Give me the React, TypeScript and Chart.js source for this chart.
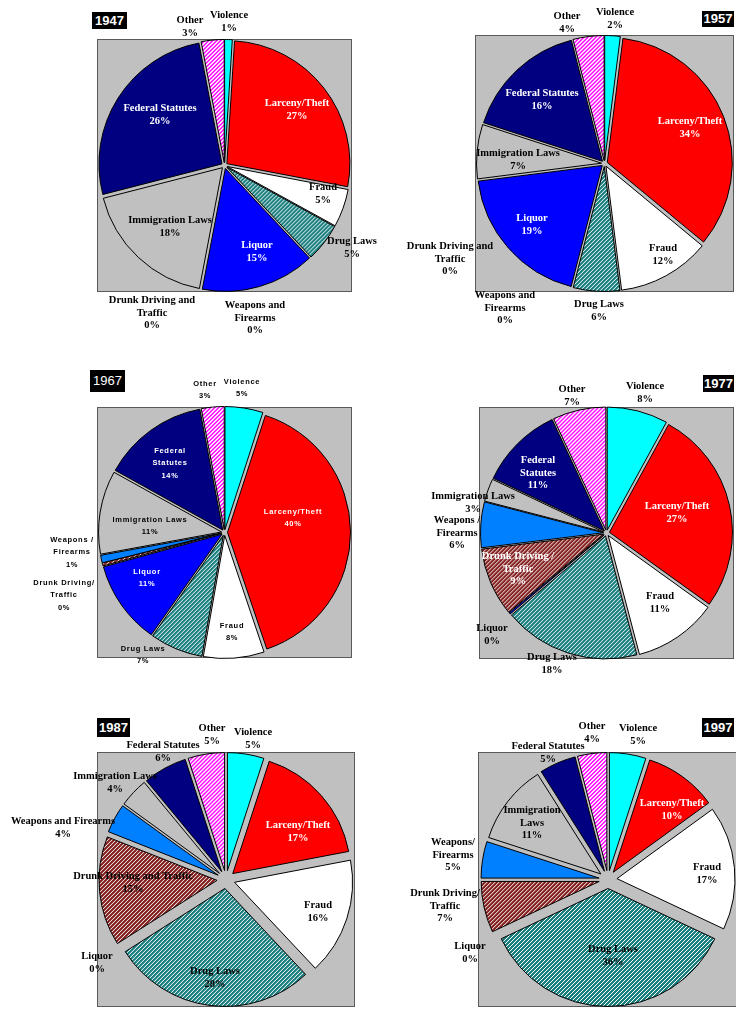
import React, { useEffect, useRef } from "react";
import { Chart, registerables } from "chart.js";

Chart.register(...registerables);

// ---------------- DATA ----------------
const categories = [
  "Violence",
  "Larceny/Theft",
  "Fraud",
  "Drug Laws",
  "Liquor",
  "Drunk Driving and Traffic",
  "Weapons and Firearms",
  "Immigration Laws",
  "Federal Statutes",
  "Other",
];
const years = ["1947", "1957", "1967", "1977", "1987", "1997"];

// percent of offenders by offense
const share1947 = [1, 27, 5, 5, 15, 0, 0, 18, 26, 3];
const share1957 = [2, 34, 12, 6, 19, 0, 0, 7, 16, 4];
const share1967 = [5, 40, 8, 7, 11, 0.4, 1, 11, 14, 3];
const share1977 = [8, 27, 11, 18, 0.2, 9, 6, 3, 11, 7];
const share1987 = [5, 17, 16, 28, 0, 15, 4, 4, 6, 5];
const share1997 = [5, 10, 17, 36, 0, 7, 5, 11, 5, 4];

// ---------------- LAYOUT / STYLE ----------------
type Spot = [string, number, number, string?];
const W = "#ffffff";

const labels1947: Spot[] = [
  ["Violence", 4.5, -143.5],
  ["Larceny/Theft", 72.5, -55.5, W],
  ["Fraud", 98.5, 28.5],
  ["Drug Laws", 127.5, 82.5],
  ["Liquor", 32.5, 86.5, W],
  ["Drunk Driving and|Traffic", -72.5, 147.5],
  ["Weapons and|Firearms", 30.5, 152.5],
  ["Immigration Laws", -54.5, 61.5],
  ["Federal Statutes", -64.5, -50.5, W],
  ["Other", -34.5, -138.5],
];
const labels1957: Spot[] = [
  ["Violence", 10.5, -144.5],
  ["Larceny/Theft", 85.5, -35.5, W],
  ["Fraud", 58.5, 91.5],
  ["Drug Laws", -5.5, 147.5],
  ["Liquor", -72.5, 61.5, W],
  ["Drunk Driving and|Traffic", -154.5, 95.5],
  ["Weapons and|Firearms", -99.5, 144.5],
  ["Immigration Laws", -86.5, -3.5],
  ["Federal Statutes", -62.5, -63.5, W],
  ["Other", -37.5, -140.5],
];
const labels1967: Spot[] = [
  ["Violence", 17.5, -144.5],
  ["Larceny/Theft", 68.5, -14.5, W],
  ["Fraud", 7.5, 99.5],
  ["Drug Laws", -81.5, 122.5],
  ["Liquor", -77.5, 45.5, W],
  ["Drunk Driving/|Traffic", -160.5, 62.5],
  ["Weapons /|Firearms", -152.5, 19.5],
  ["Immigration Laws", -74.5, -6.5],
  ["Federal|Statutes", -54.5, -69.5, W],
  ["Other", -19.5, -142.5],
];
const labels1977: Spot[] = [
  ["Violence", 38.5, -140],
  ["Larceny/Theft", 70.5, -20, W],
  ["Fraud", 53.5, 70],
  ["Drug Laws", -54.5, 131],
  ["Liquor", -114.5, 102],
  ["Drunk Driving /|Traffic", -88.5, 36, W],
  ["Weapons /|Firearms", -149.5, 0],
  ["Immigration Laws", -133.5, -30],
  ["Federal|Statutes", -68.5, -60, W],
  ["Other", -34.5, -137],
];
const labels1987: Spot[] = [
  ["Violence", 27, -140.5],
  ["Larceny/Theft", 72, -47.5, W],
  ["Fraud", 92, 32.5],
  ["Drug Laws", -11, 98.5],
  ["Liquor", -129, 83.5],
  ["Drunk Driving and Traffic", -93, 3.5],
  ["Weapons and Firearms", -163, -51.5],
  ["Immigration Laws", -111, -96.5],
  ["Federal Statutes", -63, -127.5],
  ["Other", -14, -144.5],
];
const labels1997: Spot[] = [
  ["Violence", 30, -144.5],
  ["Larceny/Theft", 64, -69.5, W],
  ["Fraud", 99, -5.5],
  ["Drug Laws", 5, 76.5],
  ["Liquor", -138, 73.5],
  ["Drunk Driving/|Traffic", -163, 26.5],
  ["Weapons/|Firearms", -155, -24.5],
  ["Immigration|Laws", -76, -56.5],
  ["Federal Statutes", -60, -126.5],
  ["Other", -16, -146.5],
];

const SERIF = 'bold 10.5px "Liberation Serif", "Times New Roman", serif';
const THIN = 'bold 7.5px "Liberation Sans", Arial, sans-serif';

type Panel = {
  year: string;
  values: number[];
  labels: Spot[];
  canvas: { x: number; y: number; w: number; h: number };
  box: { l: number; t: number; r: number; b: number };
  radius: number;
  explode: number;
  font: string;
  spacing: string;
  lineH: number;
  yearBox: { x: number; y: number; w: number; h: number; weight: string };
};

const panels: Panel[] = [
  {
    year: years[0], values: share1947, labels: labels1947,
    canvas: { x: 0, y: 0, w: 400, h: 345 }, box: { l: 97, t: 39, r: 352, b: 292 },
    radius: 123, explode: 3, font: SERIF, spacing: "0px", lineH: 12.5,
    yearBox: { x: 92, y: 12, w: 35, h: 17, weight: "bold" },
  },
  {
    year: years[1], values: share1957, labels: labels1957,
    canvas: { x: 380, y: 0, w: 356, h: 345 }, box: { l: 475, t: 35, r: 734, b: 292 },
    radius: 125, explode: 3, font: SERIF, spacing: "0px", lineH: 12.5,
    yearBox: { x: 702, y: 11, w: 32, h: 16, weight: "bold" },
  },
  {
    year: years[2], values: share1967, labels: labels1967,
    canvas: { x: 0, y: 345, w: 400, h: 355 }, box: { l: 97, t: 407, r: 352, b: 658 },
    radius: 123, explode: 3, font: THIN, spacing: "0.7px", lineH: 12.5,
    yearBox: { x: 90, y: 370, w: 35, h: 22, weight: "normal" },
  },
  {
    year: years[3], values: share1977, labels: labels1977,
    canvas: { x: 380, y: 345, w: 356, h: 355 }, box: { l: 479, t: 407, r: 734, b: 659 },
    radius: 123, explode: 3, font: SERIF, spacing: "0px", lineH: 12.5,
    yearBox: { x: 703, y: 375, w: 31, h: 17, weight: "bold" },
  },
  {
    year: years[4], values: share1987, labels: labels1987,
    canvas: { x: 0, y: 700, w: 400, h: 309 }, box: { l: 97, t: 752, r: 355, b: 1007 },
    radius: 118, explode: 9, font: SERIF, spacing: "0px", lineH: 12.5,
    yearBox: { x: 97, y: 718, w: 33, h: 19, weight: "bold" },
  },
  {
    year: years[5], values: share1997, labels: labels1997,
    canvas: { x: 380, y: 700, w: 360, h: 309 }, box: { l: 478, t: 752, r: 738, b: 1007 },
    radius: 118, explode: 9, font: SERIF, spacing: "0px", lineH: 12.5,
    yearBox: { x: 702, y: 718, w: 32, h: 19, weight: "bold" },
  },
];

function stripes(ctx: CanvasRenderingContext2D, bg: string, fg: string, thick: number) {
  const c = document.createElement("canvas");
  c.width = 4;
  c.height = 4;
  const g = c.getContext("2d")!;
  g.fillStyle = bg;
  g.fillRect(0, 0, 4, 4);
  g.fillStyle = fg;
  for (let i = 0; i < 4; i++) {
    for (let k = 0; k < thick; k++) g.fillRect(i, (3 - i + k + 4) % 4, 1, 1);
  }
  return ctx.createPattern(c, "repeat") as CanvasPattern;
}

function sliceFills(ctx: CanvasRenderingContext2D) {
  return [
    "#00FFFF",
    "#FF0000",
    "#FFFFFF",
    stripes(ctx, "#1C7F7F", "#FFFFFF", 1),
    "#0000FF",
    stripes(ctx, "#842020", "#FFFFFF", 1),
    "#0080FF",
    "#C0C0C0",
    "#000080",
    stripes(ctx, "#FFFFFF", "#FF00FF", 2),
  ];
}

const boxPlugin = {
  id: "plotBox",
  beforeDraw(chart: any) {
    const { ctx, chartArea: a } = chart;
    ctx.save();
    ctx.fillStyle = "#C0C0C0";
    ctx.fillRect(a.left, a.top, a.right - a.left, a.bottom - a.top);
    ctx.strokeStyle = "#5a5a5a";
    ctx.lineWidth = 1;
    ctx.strokeRect(a.left + 0.5, a.top + 0.5, a.right - a.left - 1, a.bottom - a.top - 1);
    ctx.restore();
  },
};

function explodePlugin(dist: number) {
  return {
    id: "explodeSlices",
    afterDatasetUpdate(chart: any, args: any) {
      const meta = chart.getDatasetMeta(args.index);
      meta.data.forEach((el: any) => {
        if (el.__exploded) return;
        const base = el.draw;
        el.draw = function (ctx: CanvasRenderingContext2D, area: any) {
          const mid = (this.startAngle + this.endAngle) / 2;
          ctx.save();
          ctx.translate(Math.cos(mid) * dist, Math.sin(mid) * dist);
          base.call(this, ctx, area);
          ctx.restore();
        };
        el.__exploded = true;
      });
    },
  };
}

function labelPlugin(p: Panel) {
  return {
    id: "sliceLabels",
    afterDatasetsDraw(chart: any) {
      const meta = chart.getDatasetMeta(0);
      const ctx: CanvasRenderingContext2D = chart.ctx;
      const data = chart.data.datasets[0].data as number[];
      ctx.save();
      ctx.textAlign = "center";
      ctx.textBaseline = "middle";
      ctx.font = p.font;
      (ctx as any).letterSpacing = p.spacing;
      meta.data.forEach((arc: any, i: number) => {
        const spot = p.labels[i];
        if (!spot) return;
        const lines = [...spot[0].split("|"), Math.round(data[i]) + "%"];
        const top = arc.y + spot[2] - ((lines.length - 1) * p.lineH) / 2;
        ctx.fillStyle = spot[3] || "#000000";
        lines.forEach((ln, k) => ctx.fillText(ln, arc.x + spot[1], top + k * p.lineH));
      });
      ctx.restore();
    },
  };
}

function PiePanel({ p }: { p: Panel }) {
  const ref = useRef<HTMLCanvasElement>(null);
  useEffect(() => {
    const canvas = ref.current!;
    const ctx = canvas.getContext("2d")!;
    const chart = new Chart(canvas, {
      type: "pie",
      data: {
        labels: categories,
        datasets: [
          {
            data: p.values,
            backgroundColor: sliceFills(ctx) as any,
            borderColor: "#000000",
            borderWidth: 1,
            radius: p.radius,
          } as any,
        ],
      },
      options: {
        responsive: false,
        animation: false,
        devicePixelRatio: 1,
        events: [],
        layout: {
          padding: {
            left: p.box.l - p.canvas.x,
            top: p.box.t - p.canvas.y,
            right: p.canvas.x + p.canvas.w - p.box.r,
            bottom: p.canvas.y + p.canvas.h - p.box.b,
          },
        },
        plugins: { legend: { display: false }, tooltip: { enabled: false } },
      },
      plugins: [boxPlugin, explodePlugin(p.explode), labelPlugin(p)],
    });
    return () => chart.destroy();
  }, [p]);
  return (
    <canvas
      ref={ref}
      width={p.canvas.w}
      height={p.canvas.h}
      style={{ position: "absolute", left: p.canvas.x, top: p.canvas.y, width: p.canvas.w, height: p.canvas.h }}
    />
  );
}

export default function App() {
  return (
    <div
      style={{
        position: "absolute",
        left: 0,
        top: 0,
        width: 736,
        height: 1009,
        overflow: "hidden",
        background: "#ffffff",
      }}
    >
      {panels.map((p) => (
        <PiePanel key={p.year} p={p} />
      ))}
      {panels.map((p) => (
        <div
          key={"y" + p.year}
          style={{
            position: "absolute",
            left: p.yearBox.x,
            top: p.yearBox.y,
            width: p.yearBox.w,
            height: p.yearBox.h,
            background: "#000000",
            color: "#ffffff",
            font: `${p.yearBox.weight} 13px "Liberation Sans", Arial, sans-serif`,
            lineHeight: p.yearBox.h + "px",
            textAlign: "center",
            zIndex: 2,
          }}
        >
          {p.year}
        </div>
      ))}
    </div>
  );
}
